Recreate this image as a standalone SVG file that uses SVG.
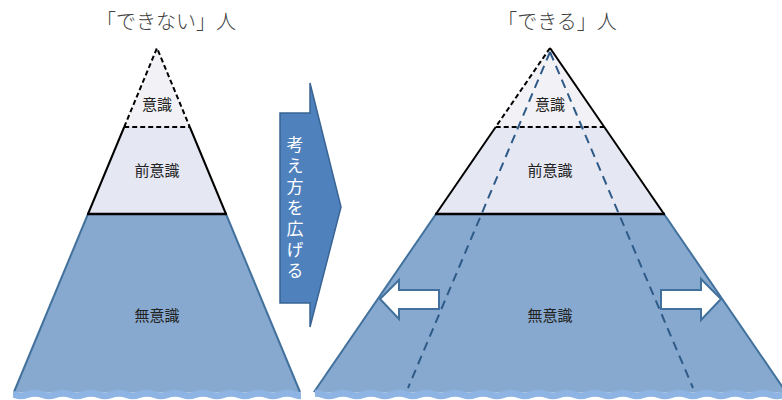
<svg xmlns="http://www.w3.org/2000/svg" width="782" height="400" viewBox="0 0 782 400">
<defs>
<style>
.t{font-family:"Noto Sans CJK JP","Noto Sans",sans-serif;}
.title{font-size:20px;fill:#404040;text-anchor:middle;font-weight:300;}
.lbl{font-size:15px;fill:#222;text-anchor:middle;}
.top{fill:#f2f2f6;}
.mid{fill:#e5e7f3;}
.low{fill:#87a9cf;}
.blk{stroke:#000;stroke-width:2;fill:none;}
.dsh{stroke:#000;stroke-width:2;fill:none;stroke-dasharray:5 3;}
.bedge{stroke:#41719c;stroke-width:2;fill:none;}
.bdash{stroke:#2e5a88;stroke-width:2;fill:none;stroke-dasharray:9 6;}
.warr{fill:#fff;stroke:#41719c;stroke-width:2;stroke-linejoin:miter;}
.vt{font-size:17px;fill:#fff;text-anchor:middle;writing-mode:vertical-rl;letter-spacing:4px;}
</style>
<pattern id="wave" patternUnits="userSpaceOnUse" x="0" y="388" width="28" height="12">
<path d="M0,3 Q7,0.5 14,3 T28,3 L28,10 Q21,12.5 14,10 T0,10 Z" fill="#8db4e2"/>
</pattern>
</defs>
<rect width="782" height="400" fill="#fff"/>

<g id="title-left"><text class="t title" x="166" y="29">「できない」人</text></g>
<g id="title-right"><text class="t title" x="557" y="29">「できる」人</text></g>

<g id="pyramid-left">
<polygon class="low" points="88,214 226,214 300,392 14,392"/>
<polygon class="mid" points="124.2,127 189.8,127 226,214 88,214"/>
<polygon class="top" points="157,48 124.2,127 189.8,127"/>
<polyline class="dsh" points="124.2,127 157,48 189.8,127"/>
<line class="dsh" x1="124.2" y1="127" x2="189.8" y2="127"/>
<line class="blk" x1="124.2" y1="127" x2="88" y2="214"/>
<line class="blk" x1="189.8" y1="127" x2="226" y2="214"/>
<line class="bedge" x1="88" y1="214" x2="14" y2="392"/>
<line class="bedge" x1="226" y1="214" x2="300" y2="392"/>
<line stroke="#000" stroke-width="2.5" x1="87" y1="214" x2="227" y2="214"/>
<rect x="13" y="388" width="288" height="12" fill="url(#wave)"/>
<text class="t lbl" x="157" y="110">意識</text>
<text class="t lbl" x="157" y="176">前意識</text>
<text class="t lbl" x="157" y="321">無意識</text>
</g>

<g id="arrow-center">
<polygon points="280,113 310,113 310,83 341,207 310,327 310,303 280,303" fill="#4f81bd" stroke="#3a6494" stroke-width="1.5"/>
<text class="t vt" x="295" y="210">考え方を広げる</text>
</g>

<g id="pyramid-right">
<polygon class="low" points="436,214 664,214 786,392 314,392"/>
<polygon class="mid" points="495.7,127 604.3,127 664,214 436,214"/>
<polygon class="top" points="550,48 495.7,127 604.3,127"/>
<line class="dsh" x1="550" y1="48" x2="495.7" y2="127"/>
<line class="blk" x1="550" y1="48" x2="604.3" y2="127"/>
<line class="dsh" x1="495.7" y1="127" x2="604.3" y2="127"/>
<line class="blk" x1="495.7" y1="127" x2="436" y2="214"/>
<line class="blk" x1="604.3" y1="127" x2="664" y2="214"/>
<line class="bedge" x1="436" y1="214" x2="314" y2="392"/>
<line class="bedge" x1="664" y1="214" x2="786" y2="392"/>
<line stroke="#000" stroke-width="2.5" x1="435" y1="214" x2="665" y2="214"/>
<rect x="315" y="388" width="467" height="12" fill="url(#wave)"/>
<text class="t lbl" x="550" y="110">意識</text>
<text class="t lbl" x="550" y="176">前意識</text>
<text class="t lbl" x="550" y="321">無意識</text>
</g>

<g id="connectors">
<line class="bdash" x1="550" y1="52" x2="408" y2="388"/>
<line class="bdash" x1="550" y1="52" x2="693" y2="388"/>
</g>

<g id="arrow-left">
<polygon class="warr" points="380,299 399,280 399,290 439,290 439,309 399,309 399,319"/>
</g>
<g id="arrow-right">
<polygon class="warr" points="721,299 701,279 701,290 661,290 661,309 701,309 701,320"/>
</g>
</svg>
